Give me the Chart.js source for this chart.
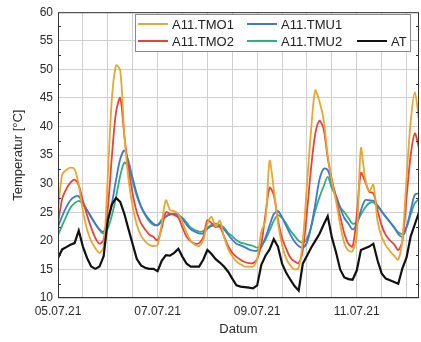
<!DOCTYPE html>
<html>
<head>
<meta charset="utf-8">
<script src="https://cdn.jsdelivr.net/npm/chart.js@4.4.1/dist/chart.umd.min.js"></script>
<style>
    html, body { margin: 0; padding: 0; background: #fff; }
    #wrap { width: 421px; height: 342px; }
</style>
</head>
<body>
<div id="wrap"><canvas id="temp-chart" width="421" height="342"></canvas></div>
<script>
// hours since 05.07.21 00:00
const hours = [
    0, 2, 4, 6, 8, 10, 12, 14, 16, 18, 20,
    22, 24, 26, 28, 30, 32, 34, 36, 38, 40, 42,
    44, 46, 48, 50, 52, 54, 56, 58, 60, 62, 64,
    66, 68, 70, 72, 74, 76, 78, 80, 82, 84, 86,
    88, 90, 92, 94, 96, 98, 100, 102, 104, 106, 108,
    110, 112, 114, 116, 118, 120, 122, 124, 126, 128, 130,
    132, 134, 136, 138, 140, 142, 144, 146, 148, 150, 152,
    154, 156, 158, 160, 162, 164, 166, 168, 170, 172, 174
];
const dateLabels = ['05.07.21', '07.07.21', '09.07.21', '11.07.21'];

const tmo1 = [
    25.2, 31.6, 32.4, 32.8, 32.5, 29.8, 25.2, 22.0, 20.0, 18.7, 17.9,
    19.0, 31.3, 45.0, 50.7, 49.8, 38.4, 30.7, 26.0, 22.8, 20.9, 19.9,
    19.3, 19.1, 19.3, 23.0, 27.1, 25.4, 25.2, 24.7, 23.2, 21.4, 20.0,
    19.3, 19.1, 20.1, 23.0, 24.2, 22.5, 23.5, 20.7, 18.6, 17.3, 16.4,
    15.9, 15.5, 15.5, 15.5, 16.8, 21.6, 23.6, 34.0, 29.0, 23.2, 19.3,
    16.9, 15.7, 15.0, 15.3, 20.0, 29.8, 39.4, 46.3, 44.4, 41.2, 35.0,
    30.4, 27.0, 22.9, 19.6, 18.3, 18.2, 21.0, 36.2, 31.0, 28.7, 29.8,
    23.5, 20.7, 19.2, 18.2, 17.4, 16.7, 20.3, 31.0, 40.9, 46.0, 41.0
];
const tmo2 = [
    23.0, 27.3, 29.1, 30.2, 30.7, 29.7, 27.0, 24.5, 22.3, 20.5, 19.5,
    20.2, 25.6, 34.9, 42.6, 45.0, 38.3, 32.6, 28.2, 25.0, 23.1, 22.0,
    21.1, 20.7, 20.1, 22.3, 25.0, 24.7, 24.5, 24.1, 22.3, 20.7, 19.9,
    19.5, 19.6, 20.6, 23.6, 23.1, 22.4, 22.5, 20.8, 19.1, 17.9, 17.2,
    16.7, 16.3, 16.1, 16.1, 16.8, 19.5, 24.6, 29.3, 28.0, 23.7, 20.5,
    18.6, 17.1, 16.4, 16.1, 18.4, 25.0, 32.8, 38.7, 41.0, 39.6, 34.5,
    30.7, 27.5, 24.3, 21.3, 19.5, 19.0, 24.5, 31.9, 30.4, 28.6, 28.3,
    25.4, 22.7, 21.0, 20.1, 19.4, 18.4, 20.0, 27.6, 35.0, 38.8, 36.2
];
const tmu1 = [
    22.4, 24.3, 25.9, 27.1, 27.7, 27.8, 26.6, 25.4, 24.2, 23.0, 22.0,
    21.6, 23.4, 26.6, 30.7, 34.3, 35.8, 33.9, 30.9, 28.2, 26.1, 24.7,
    23.7, 23.0, 22.7, 23.5, 24.2, 24.6, 24.7, 24.4, 23.8, 22.8, 22.0,
    21.6, 21.3, 21.3, 22.1, 22.6, 22.7, 22.5, 22.0, 21.1, 20.2, 19.5,
    19.2, 18.9, 18.5, 18.3, 18.3, 18.9, 20.6, 22.7, 24.7, 25.2, 24.1,
    22.6, 21.1, 19.9, 19.1, 18.8, 19.7, 22.5, 26.4, 30.7, 32.6, 32.4,
    30.1, 27.9, 25.8, 24.0, 23.0, 22.0, 22.9, 25.3, 27.1, 27.1, 27.0,
    26.2, 25.2, 24.2, 23.3, 22.4, 21.2, 20.7, 22.4, 25.3, 28.1, 28.3
];
const tmu2 = [
    21.0, 22.7, 24.3, 25.8, 26.6, 27.0, 26.4, 25.3, 24.1, 22.9, 21.9,
    21.3, 22.2, 24.5, 27.7, 31.4, 33.7, 32.9, 30.3, 27.8, 25.9, 24.5,
    23.4, 22.8, 22.8, 23.7, 24.3, 24.7, 24.7, 24.6, 24.0, 23.2, 22.3,
    21.9, 21.6, 21.7, 22.3, 22.8, 23.0, 22.8, 22.3, 21.4, 20.8, 20.1,
    19.7, 19.5, 19.3, 19.1, 18.8, 19.3, 20.2, 21.8, 23.5, 24.5, 24.0,
    23.0, 21.8, 20.9, 20.0, 19.7, 20.4, 22.4, 25.3, 27.6, 29.5, 31.2,
    29.2, 27.8, 25.9, 25.0, 24.0, 23.0, 23.3, 24.6, 25.8, 26.6, 26.7,
    26.0, 25.1, 24.2, 23.3, 22.3, 21.5, 21.2, 22.4, 24.6, 26.6, 27.3
];
const at = [
    17.0, 18.5, 18.9, 19.3, 19.6, 21.8, 19.0, 17.0, 15.5, 15.1, 15.5,
    17.3, 23.6, 26.4, 27.5, 26.8, 24.7, 22.0, 19.4, 16.8, 15.7, 15.3,
    15.1, 15.1, 14.7, 16.5, 17.5, 17.4, 17.9, 18.6, 17.2, 16.0, 15.5,
    15.5, 15.5, 16.7, 18.4, 17.7, 16.8, 16.2, 15.5, 14.6, 13.4, 12.2,
    12.0, 11.9, 11.8, 11.7, 12.2, 15.8, 17.4, 18.5, 20.3, 19.0, 16.0,
    14.4, 13.2, 12.1, 11.3, 16.0, 17.4, 18.8, 20.0, 21.2, 22.8, 24.3,
    20.6, 18.0, 15.0, 13.6, 13.3, 13.2, 14.8, 18.4, 18.7, 19.0, 19.5,
    16.6, 14.3, 13.4, 13.1, 12.8, 12.5, 15.2, 17.1, 20.8, 22.9, 25.0
];

const toPoints = values => hours.map((h, i) => ({ x: h, y: values[i] }));

Chart.defaults.font.family = '"Liberation Sans", Arial, sans-serif';
Chart.defaults.color = '#2a2a2a';

// frame, minor ticks and the boxed legend (3 columns)
const framePlugin = {
    id: 'frame',
    afterDatasetsDraw(chart) {
        const ctx = chart.ctx;
        const area = chart.chartArea;
        const y = chart.scales.y;
        ctx.save();
        ctx.strokeStyle = '#333';
        ctx.lineWidth = 1;
        ctx.beginPath();
        for (let v = 12.5; v < 60; v += 5) {
            const py = Math.round(y.getPixelForValue(v)) + 0.5;
            ctx.moveTo(area.left, py);
            ctx.lineTo(area.left + 3, py);
            ctx.moveTo(area.right, py);
            ctx.lineTo(area.right - 3, py);
        }
        ctx.stroke();
        ctx.strokeRect(area.left + 0.5, area.top + 0.5, area.right - area.left - 1, area.bottom - area.top - 1);

        // legend box
        ctx.fillStyle = '#fff';
        ctx.fillRect(135, 14, 275, 37);
        ctx.strokeStyle = '#8a8a8a';
        ctx.strokeRect(135.5, 14.5, 275, 37);

        const cols = [138, 247, 357];
        const rows = [24, 41];
        const slots = [[0, 0], [0, 1], [1, 0], [1, 1], [2, 1]];
        ctx.font = '13px "Liberation Sans", Arial, sans-serif';
        ctx.textBaseline = 'middle';
        chart.data.datasets.forEach((ds, i) => {
            const cx = cols[slots[i][0]];
            const cy = rows[slots[i][1]];
            ctx.strokeStyle = ds.borderColor;
            ctx.lineWidth = 2;
            ctx.beginPath();
            ctx.moveTo(cx, cy);
            ctx.lineTo(cx + 30, cy);
            ctx.stroke();
            ctx.fillStyle = '#222';
            ctx.fillText(ds.label, cx + 34, cy + 1);
        });
        ctx.restore();
    }
};

const tempChart = new Chart(document.getElementById('temp-chart').getContext('2d'), {
    type: 'line',
    data: {
        datasets: [
            { label: 'A11.TMO1', data: toPoints(tmo1), borderColor: '#EAA62E' },
            { label: 'A11.TMO2', data: toPoints(tmo2), borderColor: '#EE4136' },
            { label: 'A11.TMU1', data: toPoints(tmu1), borderColor: '#3F77D4' },
            { label: 'A11.TMU2', data: toPoints(tmu2), borderColor: '#2FB079' },
            { label: 'AT', data: toPoints(at), borderColor: '#111111', borderWidth: 2.2, tension: 0, order: -1 }
        ]
    },
    options: {
        responsive: false,
        animation: false,
        devicePixelRatio: 1,
        layout: { padding: { top: 10, right: 2, left: 0, bottom: 0 } },
        plugins: { legend: { display: false }, tooltip: { enabled: false } },
        elements: {
            point: { radius: 0 },
            line: { borderWidth: 1.8, tension: 0.3, fill: false }
        },
        scales: {
            x: {
                type: 'linear',
                min: 0,
                max: 174,
                grid: { color: '#cfcfcf', drawTicks: false },
                border: { display: false },
                ticks: {
                    stepSize: 12,
                    includeBounds: false,
                    autoSkip: false,
                    maxRotation: 0,
                    padding: 6,
                    font: { size: 12 },
                    callback: v => (v % 48 === 0 ? dateLabels[v / 48] : '')
                },
                title: { display: true, text: 'Datum', font: { size: 13 }, padding: { top: 2, bottom: 5 } },
                afterFit: scale => { scale.height = 44; }
            },
            y: {
                min: 10,
                max: 60,
                grid: { color: '#cfcfcf', drawTicks: false },
                border: { display: false },
                ticks: { stepSize: 5, padding: 5, font: { size: 12 } },
                title: { display: true, text: 'Temperatur [°C]', font: { size: 13 }, padding: { top: 11, bottom: 0 } },
                afterFit: scale => { scale.width = 58; }
            }
        }
    },
    plugins: [framePlugin]
});
</script>
</body>
</html>
